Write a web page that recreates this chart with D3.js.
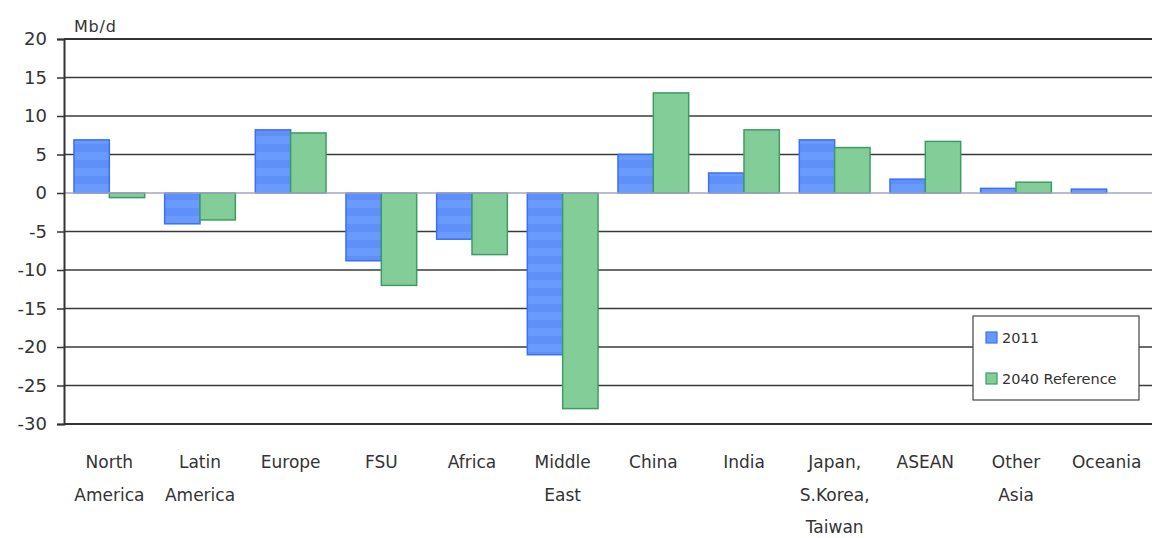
<!DOCTYPE html>
<html lang="en">
<head>
  <meta charset="UTF-8">
  <title>Net oil trade by region</title>
  <style>
    body { margin: 0; background: #fff; font-family: "DejaVu Sans", sans-serif; }
  </style>
  <script src="https://cdn.jsdelivr.net/npm/d3@7"></script>
</head>
<body>
<script>
  var regions = [["North", "America"], ["Latin", "America"], ["Europe"], ["FSU"], ["Africa"],
    ["Middle", "East"], ["China"], ["India"], ["Japan,", "S.Korea,", "Taiwan"], ["ASEAN"],
    ["Other", "Asia"], ["Oceania"]];
  var series = ["2011", "2040 Reference"];
  var v2011 = [6.9, -4.0, 8.2, -8.8, -6.0, -21.0, 5.0, 2.6, 6.9, 1.8, 0.6, 0.5];
  var v2040 = [-0.6, -3.5, 7.8, -12.0, -8.0, -28.0, 13.0, 8.2, 5.9, 6.7, 1.4, 0];
  var yTicks = [20, 15, 10, 5, 0, -5, -10, -15, -20, -25, -30];

  var W = 1152, H = 538;
  var mLeft = 64, mRight = 1152, mTop = 39, mBottom = 424;

  var svg = d3.select("body").append("svg").attr("width", W).attr("height", H);

  var defs = svg.append("defs");
  var pat = defs.append("pattern").attr("id", "blueStripe")
    .attr("patternUnits", "userSpaceOnUse").attr("width", 8).attr("height", 16);
  pat.append("rect").attr("width", 8).attr("height", 8).attr("fill", "#5f8ff9");
  pat.append("rect").attr("y", 8).attr("width", 8).attr("height", 8).attr("fill", "#699bff");

  var x = d3.scaleBand().domain(d3.range(regions.length)).range([mLeft, mRight]).paddingInner(0.22).paddingOuter(0.11);
  var x1 = d3.scaleBand().domain(series).range([0, x.bandwidth()]);
  var y = d3.scaleLinear().domain([-30, 20]).range([mBottom, mTop]);

  // grid
  svg.append("g").selectAll("line").data(yTicks.filter(function(d){ return d !== 0; }))
    .enter().append("line")
    .attr("x1", mLeft).attr("x2", mRight)
    .attr("y1", function(d){ return y(d); }).attr("y2", function(d){ return y(d); })
    .attr("stroke", function(d){ return (d === 20 || d === -30) ? "#333" : "#3a3a3a"; })
    .attr("stroke-width", function(d){ return (d === 20 || d === -30) ? 2 : 1.5; });

  var fills = ["url(#blueStripe)", "#82cd98"];
  var strokes = ["#3d6ff2", "#3c9c64"];
  var vals = [v2011, v2040];

  series.forEach(function(s, si) {
    var pts = vals[si].map(function(v, i){ return {i: i, v: v}; }).filter(function(d){ return d.v !== 0; });
    svg.append("g").selectAll("rect").data(pts).enter().append("rect")
      .attr("x", function(d){ return x(d.i) + x1(s); })
      .attr("y", function(d){ return y(Math.max(0, d.v)); })
      .attr("width", x1.bandwidth())
      .attr("height", function(d){ return Math.abs(y(d.v) - y(0)); })
      .attr("fill", fills[si])
      .attr("stroke", strokes[si]).attr("stroke-width", 1.5);
  });

  // zero line
  svg.append("line").attr("x1", mLeft).attr("x2", mRight)
    .attr("y1", y(0)).attr("y2", y(0))
    .attr("stroke", "#a4a4c4").attr("stroke-width", 1.5);

  // y axis
  var yAxis = d3.axisLeft(y).tickValues(yTicks).tickSize(7).tickPadding(10)
    .tickFormat(function(d){ return String(d); });
  var ga = svg.append("g").attr("transform", "translate(" + mLeft + ",0)").call(yAxis);
  ga.select(".domain").attr("stroke", "#333").attr("stroke-width", 2);
  ga.selectAll(".tick line").attr("stroke", "#333").attr("stroke-width", 1.5);
  ga.selectAll(".tick text").attr("font-size", 18).attr("fill", "#333")
    .attr("font-family", "DejaVu Sans, sans-serif");

  svg.append("text").attr("x", 74).attr("y", 32).attr("font-size", 16)
    .attr("fill", "#333").attr("letter-spacing", 0.8).text("Mb/d");

  // category labels
  var lab = svg.append("g").selectAll("text").data(regions).enter().append("text")
    .attr("text-anchor", "middle").attr("font-size", 17).attr("fill", "#333")
    .attr("transform", function(d, i){ return "translate(" + (x(i) + x.bandwidth() / 2) + ",0)"; });
  lab.selectAll("tspan").data(function(d){ return d; }).enter().append("tspan")
    .attr("x", 0).attr("y", function(d, j){ return 468 + j * 32.5; }).text(function(d){ return d; });

  // legend
  var lg = svg.append("g").attr("transform", "translate(973,316)");
  lg.append("rect").attr("width", 166).attr("height", 84).attr("fill", "#fff")
    .attr("stroke", "#444").attr("stroke-width", 1.2);
  series.forEach(function(s, si) {
    var yy = 21 + si * 41;
    lg.append("rect").attr("x", 13).attr("y", yy - 5).attr("width", 11).attr("height", 11)
      .attr("fill", si === 0 ? "#6699ff" : "#82cd98").attr("stroke", strokes[si]).attr("stroke-width", 1.2);
    lg.append("text").attr("x", 29).attr("y", yy + 6).attr("font-size", 14.5).attr("fill", "#333").text(s);
  });
</script>
</body>
</html>
